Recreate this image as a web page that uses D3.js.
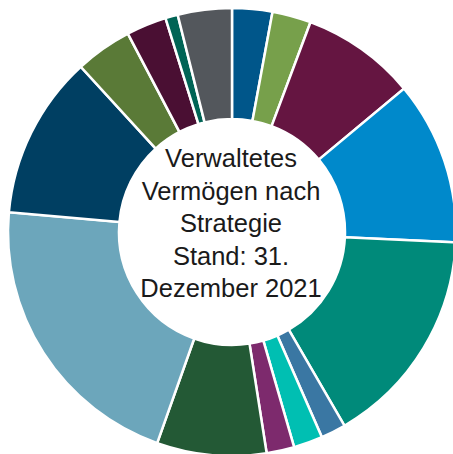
<!DOCTYPE html>
<html>
<head>
<meta charset="utf-8">
<script src="https://cdn.jsdelivr.net/npm/d3@7"></script>
<style>
  body { margin: 0; background: #fff; }
</style>
</head>
<body>
<div id="chart"></div>
<script>
//DATA--------------------
// share per strategy in %, clockwise from 12 o'clock
var shares = [2.9, 2.8, 8.25, 11.8, 15.9, 1.8, 2.1, 2.0, 7.9, 21.0, 11.8, 4.1, 2.9, 0.9, 3.9];
var sliceColors = ["#00568a", "#77a04b", "#651541", "#0089cb", "#008a7a", "#3a77a3", "#00bfb2",
    "#7d2a6d", "#235935", "#6ca6bb", "#003f62", "#5a7a37", "#4a0f33", "#006455", "#53575c"];
var centerLines = ["Verwaltetes", "Vermögen nach", "Strategie", "Stand: 31.", "Dezember 2021"];

//SET BOUNDARIES--------------------
var svgWidth = 453;
var svgHeight = 454;
var cx = 232;
var cy = 232;
var outerR = 224;
var innerR = 113;

var svg = d3.select("#chart")
    .append("svg")
    .attr("width", svgWidth)
    .attr("height", svgHeight);

var donut = svg.append("g")
    .attr("transform", `translate(${cx}, ${cy})`);

var pie = d3.pie()
    .sort(null)
    .value(d => d);

var arc = d3.arc()
    .innerRadius(innerR)
    .outerRadius(outerR);

donut.selectAll("path")
    .data(pie(shares))
    .enter()
    .append("path")
    .attr("d", arc)
    .attr("fill", (d, i) => sliceColors[i])
    .attr("stroke", "#fff")
    .attr("stroke-width", 2.5);

// center label
var lineGap = 32.5;
donut.selectAll("text")
    .data(centerLines)
    .enter()
    .append("text")
    .attr("x", -1)
    .attr("y", (d, i) => -65 + i * lineGap)
    .attr("text-anchor", "middle")
    .attr("font-family", "Liberation Sans, Arial, sans-serif")
    .attr("font-size", "25.5px")
    .attr("fill", "#1a1a1a")
    .text(d => d);
</script>
</body>
</html>
